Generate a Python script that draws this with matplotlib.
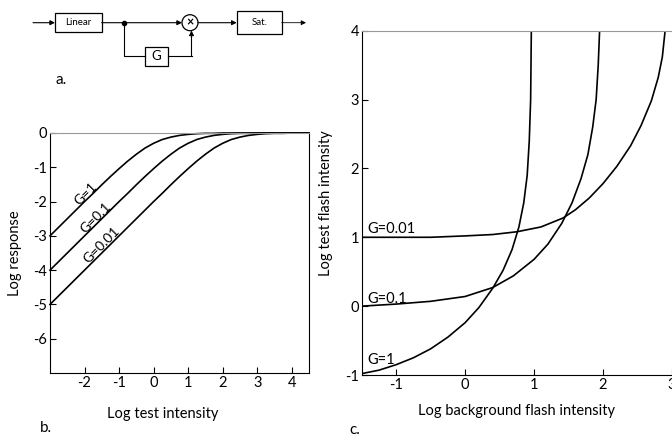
import matplotlib.pyplot as plt
from matplotlib.patches import Rectangle, Circle

plt.rcParams['font.family'] = ['Lato', 'DejaVu Sans']
plt.rcParams['axes.unicode_minus'] = False

# panel b: log response vs log test intensity
b_x = [-3, -2.75, -2.5, -2.25, -2, -1.75, -1.5, -1.25, -1, -0.75, -0.5, -0.25,
       0, 0.25, 0.5, 0.75, 1, 1.25, 1.5, 1.75, 2, 2.25, 2.5, 2.75, 3, 3.25,
       3.5, 3.75, 4, 4.25, 4.5]
b_g1 = [-3.00, -2.75, -2.50, -2.25, -2.00, -1.76, -1.51, -1.27, -1.04, -0.82,
        -0.62, -0.44, -0.30, -0.19, -0.12, -0.07, -0.04, -0.02, -0.01, -0.01,
        0, 0, 0, 0, 0, 0, 0, 0, 0, 0, 0]
b_g01 = [-4.00, -3.75, -3.50, -3.25, -3.00, -2.75, -2.50, -2.25, -2.00, -1.76,
         -1.51, -1.27, -1.04, -0.82, -0.62, -0.44, -0.30, -0.19, -0.12, -0.07,
         -0.04, -0.02, -0.01, -0.01, 0, 0, 0, 0, 0, 0, 0]
b_g001 = [-5.00, -4.75, -4.50, -4.25, -4.00, -3.75, -3.50, -3.25, -3.00, -2.75,
          -2.50, -2.25, -2.00, -1.76, -1.51, -1.27, -1.04, -0.82, -0.62, -0.44,
          -0.30, -0.19, -0.12, -0.07, -0.04, -0.02, -0.01, -0.01, 0, 0, 0]
b_labels = ['G=1', 'G=0.1', 'G=0.01']
b_label_pos = [(-1.95, -1.79), (-1.66, -2.48), (-1.51, -3.26)]

# panel c: log test flash intensity vs log background flash intensity
c_x_g1 = [-1.5, -1.25, -1.0, -0.75, -0.5, -0.25, 0.0, 0.2, 0.4, 0.55, 0.68,
          0.78, 0.85, 0.9, 0.93, 0.95, 0.96]
c_y_g1 = [-0.98, -0.93, -0.85, -0.75, -0.62, -0.45, -0.24, -0.02, 0.26, 0.52,
          0.82, 1.15, 1.5, 1.9, 2.4, 3.0, 4.0]
c_x_g01 = [-1.5, -1.0, -0.5, 0.0, 0.4, 0.7, 1.0, 1.2, 1.4, 1.55, 1.68, 1.78,
           1.85, 1.9, 1.93, 1.95]
c_y_g01 = [0.0, 0.03, 0.07, 0.14, 0.27, 0.44, 0.68, 0.90, 1.2, 1.5, 1.85, 2.2,
           2.6, 3.0, 3.5, 4.0]
c_x_g001 = [-1.5, -0.5, 0.0, 0.4, 0.75, 1.1, 1.42, 1.6, 1.8, 2.0, 2.2, 2.4,
            2.55, 2.7, 2.8, 2.86, 2.9]
c_y_g001 = [1.0, 1.0, 1.02, 1.04, 1.08, 1.15, 1.28, 1.40, 1.57, 1.78, 2.03,
            2.33, 2.62, 2.98, 3.32, 3.62, 4.0]
c_labels = ['G=1', 'G=0.1', 'G=0.01']
c_label_y = [-0.84, 0.04, 1.06]

W, H = 672, 436
fig = plt.figure(figsize=(6.72, 4.36), dpi=100)

# panel a: block diagram drawn in pixel coords
axa = fig.add_axes([0, 0, 1, 1])
axa.set_xlim(0, W)
axa.set_ylim(H, 0)
axa.axis('off')
arrow = dict(arrowstyle='-|>', lw=0.8, color='k', mutation_scale=7,
             shrinkA=0, shrinkB=0)
yl = 22.7
axa.add_patch(Rectangle((55, 13), 46.7, 19.5, fill=False, lw=0.9))
axa.text(78.3, yl, 'Linear', ha='center', va='center', fontsize=7)
axa.add_patch(Rectangle((236.7, 11), 45, 23.5, fill=False, lw=0.9))
axa.text(259.2, yl, 'Sat.', ha='center', va='center', fontsize=7)
axa.add_patch(Rectangle((145, 46.7), 23.3, 19.3, fill=False, lw=0.9))
axa.text(156.7, 56.5, 'G', ha='center', va='center', fontsize=9.5)
axa.add_patch(Circle((190, yl), 8, fill=False, lw=0.9))
axa.text(190, yl, '×', ha='center', va='center', fontsize=9, fontweight='bold')
axa.annotate('', xy=(55, yl), xytext=(33, yl), arrowprops=arrow)
axa.annotate('', xy=(182, yl), xytext=(101.7, yl), arrowprops=arrow)
axa.plot([124, 124, 145], [yl, 56, 56], color='k', lw=0.8)
axa.plot([168.3, 191.5], [56, 56], color='k', lw=0.8)
axa.annotate('', xy=(191.5, 30.5), xytext=(191.5, 56.4), arrowprops=arrow)
axa.plot(124, yl, 'o', color='k', ms=3)
axa.annotate('', xy=(236.7, yl), xytext=(198, yl), arrowprops=arrow)
axa.annotate('', xy=(306, yl), xytext=(281.7, yl),
             arrowprops=dict(arrow, lw=0.6))
axa.text(56, 80, 'a.', ha='left', va='center', fontsize=11)

# panel b
axb = fig.add_axes([50 / W, 1 - 373 / H, 259 / W, 240 / H])
for ys in (b_g1, b_g01, b_g001):
    axb.plot(b_x, ys, color='k', lw=1.2, clip_on=False)
for lab, (tx, ty) in zip(b_labels, b_label_pos):
    axb.text(tx, ty, lab, rotation=45, rotation_mode='anchor',
             ha='center', va='center', fontsize=10)
axb.set_xlim(-3, 4.5)
axb.set_ylim(-7, 0)
axb.set_xticks(range(-2, 5))
axb.set_yticks(range(-6, 1))
axb.tick_params(direction='in', length=4, width=0.8, labelsize=10.5, pad=2)
axb.spines['top'].set_color('0.6')
axb.set_xlabel('Log test intensity', fontsize=10.5)
axb.xaxis.set_label_coords(0.436, -0.14)
axb.set_ylabel('Log response', fontsize=10.5, labelpad=8)
fig.text(40 / W, 1 - 428 / H, 'b.', ha='left', va='center', fontsize=11)

# panel c
axc = fig.add_axes([361.7 / W, 1 - 375 / H, (W - 361.7) / W, (375 - 30.7) / H])
for xs, ys in ((c_x_g1, c_y_g1), (c_x_g01, c_y_g01), (c_x_g001, c_y_g001)):
    axc.plot(xs, ys, color='k', lw=1.2)
for lab, ty in zip(c_labels, c_label_y):
    axc.text(-1.42, ty, lab, ha='left', va='baseline', fontsize=10.5)
axc.set_xlim(-1.5, 3)
axc.set_ylim(-1, 4)
axc.set_xticks(range(-1, 4))
axc.set_yticks(range(-1, 5))
axc.tick_params(direction='in', length=4, width=0.8, labelsize=10.5, pad=2)
axc.spines['top'].set_color('0.6')
axc.spines['right'].set_visible(False)
axc.set_xlabel('Log background flash intensity', fontsize=10.5, labelpad=9)
axc.set_ylabel('Log test flash intensity', fontsize=10.5, labelpad=9)
fig.text(349 / W, 1 - 430 / H, 'c.', ha='left', va='center', fontsize=11)

fig.savefig('out.png', dpi=100)
